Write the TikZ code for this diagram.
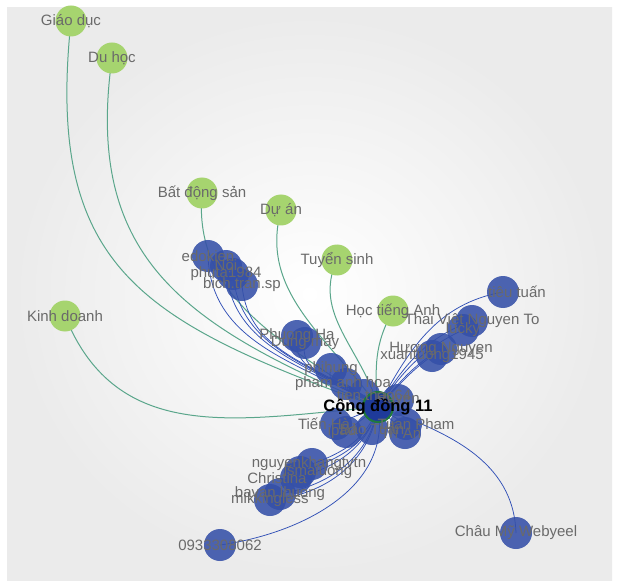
\documentclass[tikz,border=0pt]{standalone}
\usepackage{fontspec}
\setmainfont{Liberation Sans}
\usepackage{tikz}
\usetikzlibrary{backgrounds}

\definecolor{topicgreen}{HTML}{A6D46F}
\definecolor{memberblue}{HTML}{3550A8}
\definecolor{hubblue}{HTML}{1E3A9A}
\definecolor{hubring}{HTML}{1F7A3C}
\definecolor{linkteal}{HTML}{5AA68B}
\definecolor{linkblue}{HTML}{3150B6}
\definecolor{labelgray}{HTML}{6A6A6A}

\begin{document}
\begin{tikzpicture}[
  x=1pt, y=1pt,
  lbl/.style={text=labelgray, font=\fontsize{15}{16}\selectfont, inner sep=0pt},
  topic/.style={circle, fill=topicgreen, minimum size=31pt, inner sep=0pt},
  member/.style={circle, fill=memberblue, fill opacity=0.88, minimum size=32pt, inner sep=0pt},
  tlink/.style={linkteal, line width=1pt},
  mlink/.style={linkblue, line width=0.75pt}
]
\useasboundingbox (0,0) rectangle (618,-585);

% Backdrop
\begin{scope}[on background layer]
\fill[white] (0,0) rectangle (618,-585);
\shade[inner color=white, outer color=gray!16] (7,-8) rectangle (612,-580);
\end{scope}

% Topics
\node[topic] (giaoduc) at (71,-21) {};
\node[topic] (duhoc) at (112,-58) {};
\node[topic] (batdongsan) at (202,-193) {};
\node[topic] (duan) at (281,-210) {};
\node[topic] (tuyensinh) at (337,-260) {};
\node[topic] (hoctienganh) at (393,-311) {};
\node[topic] (kinhdoanh) at (65,-316) {};

% Members, upper left
\node[member] (edokien) at (208,-256) {};
\node[member] (noi) at (226,-266) {};
\node[member] (phuta) at (233,-274) {};
\node[member] (bichtran) at (242,-285) {};
\node[member] (phuongha) at (297,-336) {};
\node[member] (dungmay) at (305,-343) {};
\node[member] (phihung) at (331,-369) {};
\node[member] (phamanhhoa) at (346,-384) {};

% Members, round the hub
\node[member] (thao) at (364,-395) {};
\node[member] (huyen) at (398,-400) {};
\node[member] (tienha) at (336,-424) {};
\node[member] (ipad) at (346,-432) {};
\node[member] (baotuan) at (372,-429) {};
\node[member] (tuanpham) at (406,-424) {};
\node[member] (trian) at (405,-433) {};

% Members, right
\node[member] (tieutuan) at (503,-292) {};
\node[member] (lucky) at (463,-330) {};
\node[member] (thaiviet) at (472,-321) {};
\node[member] (huongng) at (441,-349) {};
\node[member] (xuantuong) at (432,-356) {};

% Members, lower left
\node[member] (nguyenkhang) at (312,-464) {};
\node[member] (lsmai) at (300,-472) {};
\node[member] (christina) at (296,-478) {};
\node[member] (bavan) at (280,-494) {};
\node[member] (mikking) at (270,-500) {};
\node[member] (phone) at (220,-545) {};
\node[member] (chaumy) at (516,-533) {};

% Hub
\node[circle, fill=hubblue, draw=hubring, line width=2pt, minimum size=30pt, inner sep=0pt] (hub) at (378,-407) {};

% Labels
\node[lbl] (giaoduc-l) at (giaoduc) {Giáo dục};
\node[lbl] (duhoc-l) at (duhoc) {Du học};
\node[lbl] (batdongsan-l) at (batdongsan) {Bất động sản};
\node[lbl] (duan-l) at (duan) {Dự án};
\node[lbl] (tuyensinh-l) at (tuyensinh) {Tuyển sinh};
\node[lbl] (hoctienganh-l) at (hoctienganh) {Học tiếng Anh};
\node[lbl] (kinhdoanh-l) at (kinhdoanh) {Kinh doanh};

\node[lbl] (edokien-l) at (edokien) {edokien};
\node[lbl] (noi-l) at (noi) {Nội};
\node[lbl] (phuta-l) at ([xshift=-7pt]phuta) {phuta1984};
\node[lbl] (bichtran-l) at (bichtran) {bich.tran.sp};
\node[lbl] (phuongha-l) at (phuongha) {Phuong Ha};
\node[lbl] (dungmay-l) at (dungmay) {Dung may};
\node[lbl] (phihung-l) at (phihung) {phihung};
\node[lbl] (phamanhhoa-l) at ([xshift=-3pt]phamanhhoa) {pham anh hoa};

\node[lbl] (thao-l) at ([xshift=10pt]thao) {tien.thao64};
\node[lbl] (huyen-l) at (huyen) {Huyen};
\node[lbl] (tienha-l) at ([xshift=-12pt]tienha) {Tiến Hà};
\node[lbl] (ipad-l) at ([xshift=-4pt]ipad) {ipad};
\node[lbl] (baotuan-l) at (baotuan) {Bảo Tuấn};
\node[lbl] (tuanpham-l) at ([xshift=10pt]tuanpham) {Tuan Pham};
\node[lbl] (trian-l) at ([xshift=-4pt]trian) {Trí An};

\node[lbl] (tieutuan-l) at ([xshift=14pt]tieutuan) {tiêu tuấn};
\node[lbl] (lucky-l) at (lucky) {lucky};
\node[lbl] (thaiviet-l) at (thaiviet) {Thai Việt Nguyen To};
\node[lbl] (huongng-l) at (huongng) {Hương Nguyen};
\node[lbl] (xuantuong-l) at (xuantuong) {xuantuong1945};

\node[lbl] (nguyenkhang-l) at ([xshift=-3pt]nguyenkhang) {nguyenkhangtvtn};
\node[lbl] (lsmai-l) at ([xshift=18pt]lsmai) {lsmaiuong};
\node[lbl] (christina-l) at ([xshift=-19pt]christina) {Christina};
\node[lbl] (bavan-l) at (bavan) {bavan lhuong};
\node[lbl] (mikking-l) at (mikking) {mikkingless};
\node[lbl] (phone-l) at (phone) {0933308062};
\node[lbl] (chaumy-l) at (chaumy) {Châu Mỹ Webyeel};

\node[font=\bfseries\fontsize{16.5}{18}\selectfont, text=black, inner sep=0pt] (hub-l) at (hub) {Cộng đồng 11};

% Links
\begin{scope}[on background layer]
\draw[tlink] (giaoduc.center) to[out=264, in=160, looseness=1.3] (hub.center);
\draw[tlink] (duhoc.center) to[out=262, in=157, looseness=1.2] (hub.center);
\draw[tlink] (batdongsan.center) to[out=265, in=145] (hub.center);
\draw[tlink] (duan.center) to[out=255, in=125] (hub.center);
\draw[tlink] (tuyensinh.center) to[out=245, in=105] (hub.center);
\draw[tlink] (hoctienganh.center) to[out=240, in=95] (hub.center);
\draw[tlink] (kinhdoanh.center) to[out=292, in=185, looseness=1.1] (hub.center);

\draw[mlink] (edokien.center) to[out=272, in=150] (hub.center);
\draw[mlink] (noi.center) to[out=272, in=148] (hub.center);
\draw[mlink] (phuta.center) to[out=275, in=146] (hub.center);
\draw[mlink] (bichtran.center) to[out=275, in=143] (hub.center);
\draw[mlink] (phuongha.center) to[out=260, in=135] (hub.center);
\draw[mlink] (dungmay.center) to[out=258, in=132] (hub.center);
\draw[mlink] (phihung.center) to[out=250, in=130] (hub.center);
\draw[mlink] (phamanhhoa.center) -- (hub.center);
\draw[mlink] (thao.center) -- (hub.center);
\draw[mlink] (huyen.center) -- (hub.center);
\draw[mlink] (tienha.center) -- (hub.center);
\draw[mlink] (ipad.center) -- (hub.center);
\draw[mlink] (baotuan.center) -- (hub.center);
\draw[mlink] (tuanpham.center) -- (hub.center);
\draw[mlink] (trian.center) -- (hub.center);

\draw[mlink] (tieutuan.center) to[out=190, in=62] (hub.center);
\draw[mlink] (thaiviet.center) to[out=200, in=58] (hub.center);
\draw[mlink] (lucky.center) to[out=205, in=55] (hub.center);
\draw[mlink] (huongng.center) to[out=210, in=48] (hub.center);
\draw[mlink] (xuantuong.center) to[out=215, in=45] (hub.center);

\draw[mlink] (nguyenkhang.center) to[out=20, in=250] (hub.center);
\draw[mlink] (lsmai.center) to[out=18, in=255] (hub.center);
\draw[mlink] (christina.center) to[out=15, in=255] (hub.center);
\draw[mlink] (bavan.center) to[out=10, in=260] (hub.center);
\draw[mlink] (mikking.center) to[out=5, in=262] (hub.center);
\draw[mlink] (phone.center) to[out=8, in=280] (hub.center);
\draw[mlink] (chaumy.center) to[out=92, in=-20] (hub.center);
\end{scope}
\end{tikzpicture}
\end{document}
